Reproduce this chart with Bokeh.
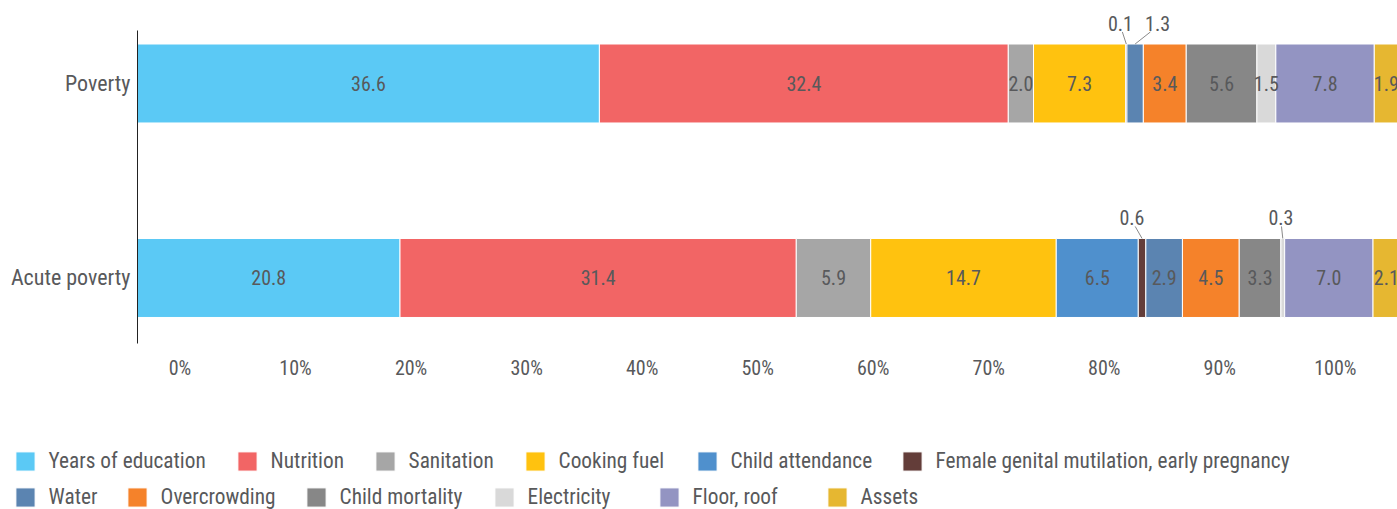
import numpy as np
from bokeh.plotting import figure
from bokeh.models import (ColumnDataSource, Range1d, LinearAxis, FixedTicker,
                          Legend, LegendItem, LabelSet)
from bokeh.embed import file_html
from bokeh.resources import INLINE
from bokeh.core.properties import value

# ---------------- data ----------------
rows = ["Acute poverty", "Poverty"]
dimensions = ["Years of education", "Nutrition", "Sanitation", "Cooking fuel",
              "Child attendance", "Female genital mutilation, early pregnancy",
              "Water", "Overcrowding", "Child mortality", "Electricity",
              "Floor, roof", "Assets"]
poverty = [36.6, 32.4, 2.0, 7.3, 0.0, 0.1, 1.3, 3.4, 5.6, 1.5, 7.8, 1.9]
acute_poverty = [20.8, 31.4, 5.9, 14.7, 6.5, 0.6, 2.9, 4.5, 3.3, 0.3, 7.0, 2.1]
tick_values = [0, 10, 20, 30, 40, 50, 60, 70, 80, 90, 100]
tick_labels = ["0%", "10%", "20%", "30%", "40%", "50%", "60%", "70%", "80%", "90%", "100%"]

# ---------------- style ----------------
colors = ["#5BC9F5", "#F26565", "#A6A6A6", "#FFC20F", "#4F90CD", "#633D39",
          "#5B84B1", "#F5822A", "#878787", "#D9D9D9", "#9394C2", "#E6B731"]
FONT = "Roboto Condensed, Liberation Sans Narrow, DejaVu Sans Condensed, Arial Narrow, sans-serif"
TXT = "#58595B"
# small segments labelled above the bar: (row index, dimension index, label shift in %)
callouts = [(1, 5, -0.46), (1, 6, 1.78), (0, 5, -0.8), (0, 9, -0.15)]
BAR_H = 0.406
# legend swatch screen positions (left px, bottom px within legend panel)
legend_pos = [(12.6, 36), (234.6, 36), (372.6, 36), (522.6, 36), (694.6, 36), (899.6, 36),
              (12.6, 0), (124.6, 0), (303.6, 0), (491.6, 0), (656.6, 0), (824.6, 0)]

p = figure(width=1397, height=400, output_backend="svg", toolbar_location=None,
           x_range=Range1d(0, 99.84), y_range=Range1d(-0.3368, 1.4267),
           x_axis_type=None, y_axis_type=None)
p.min_border_left = 137
p.min_border_top = 0
p.min_border_right = 0
p.min_border_bottom = 57
p.outline_line_color = None
p.xgrid.visible = False
p.ygrid.visible = False

data = {"y": [0, 1]}
for d, a, pv in zip(dimensions, acute_poverty, poverty):
    data[d] = [a, pv]
src = ColumnDataSource(data)
rends = p.hbar_stack(dimensions, y="y", height=BAR_H, fill_color=colors,
                     line_color="white", line_width=1, source=src)

# y axis
yaxis = LinearAxis(ticker=FixedTicker(ticks=[0, 1]), bounds=(-0.3368, 1.2725),
                   major_label_overrides={0: rows[0], 1: rows[1]})
yaxis.major_tick_line_color = None
yaxis.major_tick_out = 0
yaxis.major_tick_in = 0
yaxis.minor_tick_line_color = None
yaxis.axis_line_color = "#222222"
yaxis.axis_line_width = 1
yaxis.major_label_text_font = FONT
yaxis.major_label_text_font_size = "22px"
yaxis.major_label_text_color = TXT
yaxis.major_label_standoff = 7
p.add_layout(yaxis, "left")

# x axis (tick labels on their own scale)
p.extra_x_ranges = {"pct": Range1d(-3.68, 105.38)}
xaxis = LinearAxis(x_range_name="pct", ticker=FixedTicker(ticks=tick_values),
                   major_label_overrides={t: l for t, l in zip(tick_values, tick_labels)})
xaxis.axis_line_color = None
xaxis.major_tick_line_color = None
xaxis.minor_tick_line_color = None
xaxis.major_label_text_font = FONT
xaxis.major_label_text_font_size = "20px"
xaxis.major_label_text_color = TXT
xaxis.major_label_standoff = 6
p.add_layout(xaxis, "below")

# value labels
vals = np.array([acute_poverty, poverty])
right = vals.cumsum(axis=1)
left = right - vals
center = (left + right) / 2
call_set = {(r, i) for r, i, _ in callouts}
lx, ly, lt = [], [], []
for r in range(2):
    for i in range(len(dimensions)):
        if vals[r, i] <= 0 or (r, i) in call_set:
            continue
        lx.append(center[r, i]); ly.append(r); lt.append(f"{vals[r, i]:.1f}")
p.text(x=lx, y=ly, text=lt, text_align="center", text_baseline="middle",
       text_font=value(FONT), text_font_size="20px", text_color=TXT)

# callouts
cx, cy, ct, sx0, sy0, sx1, sy1 = [], [], [], [], [], [], []
for r, i, shift in callouts:
    top = r + BAR_H / 2
    cx.append(center[r, i] + shift); cy.append(top); ct.append(f"{vals[r, i]:.1f}")
    sx0.append(center[r, i]); sy0.append(top)
    sx1.append(center[r, i] + shift * 0.68); sy1.append(top + 0.062)
p.segment(x0=sx0, y0=sy0, x1=sx1, y1=sy1, line_color="#8A8A8A", line_width=1)
csrc = ColumnDataSource(dict(x=cx, y=cy, text=ct))
p.add_layout(LabelSet(x="x", y="y", text="text", source=csrc, y_offset=21,
                      text_align="center", text_baseline="middle",
                      text_font=value(FONT), text_font_size="20px", text_color=TXT))

# legend panel
lg = figure(width=1397, height=109, output_backend="svg", toolbar_location=None,
            x_range=Range1d(0, 1), y_range=Range1d(0, 1),
            x_axis_type=None, y_axis_type=None)
lg.min_border_left = 0
lg.min_border_right = 0
lg.min_border_top = 0
lg.min_border_bottom = 0
lg.outline_line_color = None
lg.xgrid.visible = False
lg.ygrid.visible = False
swatches = [lg.hbar(y=np.array([np.nan]), right=np.array([np.nan]), height=1,
                    fill_color=c, line_color="white") for c in colors]

for k, d in enumerate(dimensions):
    leg = Legend(items=[LegendItem(label=d, renderers=[swatches[k]])],
                 orientation="horizontal", location=legend_pos[k])
    leg.glyph_width = 24
    leg.glyph_height = 24
    leg.label_height = 24
    leg.label_standoff = 12
    leg.padding = 0
    leg.margin = 0
    leg.border_line_color = None
    leg.background_fill_alpha = 0
    leg.label_text_font = FONT
    leg.label_text_font_size = "21.3px"
    leg.label_text_color = TXT
    lg.add_layout(leg)

open("out.html", "w").write(file_html([p, lg], INLINE))
